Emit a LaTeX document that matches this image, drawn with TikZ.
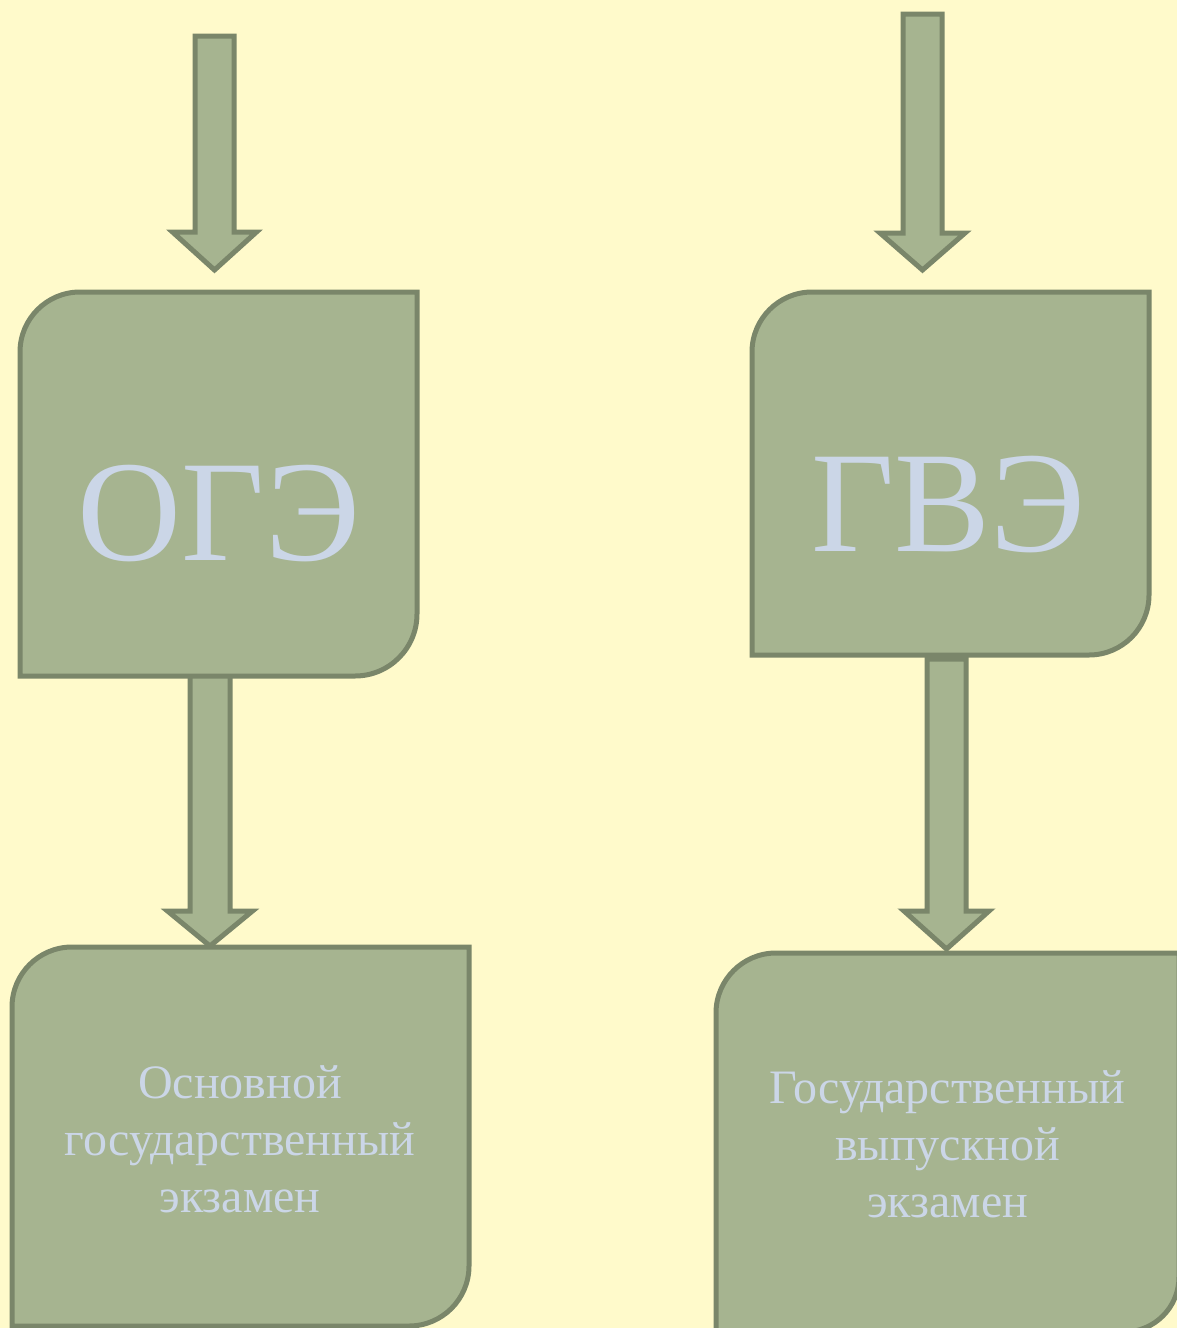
\documentclass[tikz,border=0pt]{standalone}
\usepackage{fontspec}
\setmainfont{Liberation Serif}
\definecolor{bgc}{HTML}{FFFACB}
\definecolor{boxfill}{HTML}{A6B490}
\definecolor{boxline}{HTML}{7A866A}
\definecolor{txtc}{HTML}{CBD6E7}
\tikzset{
  shapestyle/.style={fill=boxfill, draw=boxline, line width=5pt, line join=miter},
  bigtext/.style={text=txtc, inner sep=0pt, font=\fontsize{144}{150}\selectfont},
  smalltext/.style={text=txtc, inner sep=0pt, anchor=base, font=\fontsize{48}{57}\selectfont},
}
% box with rounded top-left and bottom-right corners: #1=x1,#2=ytop,#3=x2,#4=ybot,#5=r1,#6=r2
\newcommand{\diagbox}[6]{%
  \draw[shapestyle] (#1,{(#2+#4)/2}) [rounded corners=#5] -- (#1,#2) -- ({(#1+#3)/2},#2) [sharp corners] -- (#3,#2) -- (#3,{(#2+#4)/2}) [rounded corners=#6] -- (#3,#4) -- ({(#1+#3)/2},#4) [sharp corners] -- (#1,#4) -- cycle;}
% block arrow: #1=center x, #2=half shaft, #3=top y, #4=head y, #5=half head, #6=tip y
\newcommand{\blockarrow}[6]{%
  \draw[shapestyle] ({#1-#2},#3) -- ({#1+#2},#3) -- ({#1+#2},#4) -- ({#1+#5},#4) -- (#1,#6) -- ({#1-#5},#4) -- ({#1-#2},#4) -- cycle;}
\begin{document}
\begin{tikzpicture}[x=1pt,y=-1pt]
\useasboundingbox (0,0) rectangle (1177,1328);
\clip (0,0) rectangle (1177,1328);
\fill[bgc] (0,0) rectangle (1177,1328);
% arrows
\blockarrow{214.5}{19.5}{36}{232}{42}{270}
\blockarrow{922.5}{19.5}{14}{233}{42.5}{270}
\blockarrow{210}{20}{660}{911}{42.5}{946}
\blockarrow{946.5}{19.5}{659}{911}{42.5}{949}
% boxes
\diagbox{20}{292}{417}{676}{60}{62}
\diagbox{752}{292}{1149}{655}{60}{60}
\diagbox{12}{947}{469}{1326}{60}{60}
\diagbox{716}{953}{1179}{1332}{60}{55}
% texts
\node[bigtext] (oge) at (219,514) {ОГЭ};
\node[bigtext] (gve) at (948.5,505) {ГВЭ};
\node[smalltext] (l1) at (240,1098) {Основной};
\node[smalltext] (l2) at (240,1155) {государственный};
\node[smalltext] (l3) at (240,1212) {экзамен};
\node[smalltext] (r1) at (947.5,1103) {Государственный};
\node[smalltext] (r2) at (947.5,1160) {выпускной};
\node[smalltext] (r3) at (947.5,1217) {экзамен};
\end{tikzpicture}
\end{document}
